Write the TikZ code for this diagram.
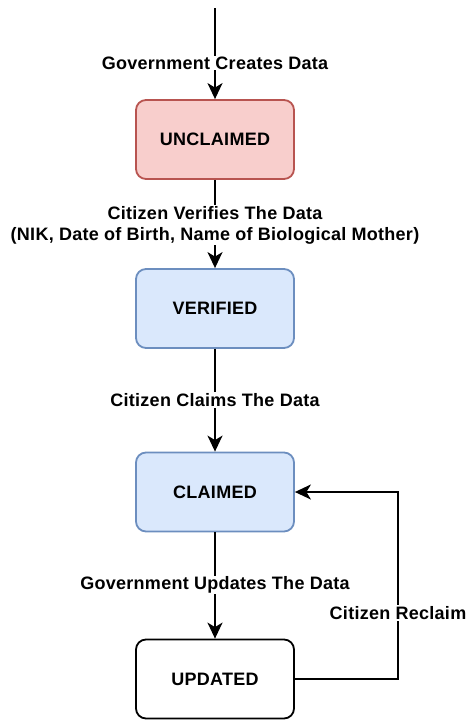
\documentclass[tikz,border=0pt]{standalone}
\usepackage{fontspec}
\setmainfont{Liberation Sans}[LetterSpace=1.5]
\usetikzlibrary{arrows.meta}
\definecolor{redfill}{HTML}{F8CECC}
\definecolor{redline}{HTML}{B85450}
\definecolor{bluefill}{HTML}{DAE8FC}
\definecolor{blueline}{HTML}{6C8EBF}
\tikzset{
  state/.style={draw, line width=1.8pt, rounded corners=10pt, minimum width=158pt,
    minimum height=79pt, inner sep=0pt, font=\fontsize{18}{21}\selectfont\bfseries},
  flow/.style={line width=1.9pt, -{Stealth[length=16pt,width=15pt,inset=4.5pt]}},
  lbl/.style={fill=white, inner sep=1pt, align=center,
    font=\fontsize{18}{21}\selectfont\bfseries}
}
\begin{document}
\begin{tikzpicture}[x=1pt,y=-1pt]
\useasboundingbox (0,0) rectangle (473,720);
\node[state, fill=redfill, draw=redline] (unc) at (215,139.5) {UNCLAIMED};
\node[state, fill=bluefill, draw=blueline] (ver) at (215,308.5) {VERIFIED};
\node[state, fill=bluefill, draw=blueline] (cla) at (215,492) {CLAIMED};
\node[state, fill=white, draw=black] (upd) at (215,679) {UPDATED};
\coordinate (start) at (215,8);
\coordinate (turn) at (398,0);

\draw[flow] (start) -- (unc.north);
\node[lbl] (l1) at (215,63) {Government Creates Data};

\draw[flow] (unc.south) -- (ver.north);
\node[lbl] (l2) at (215,225) {Citizen Verifies The Data\\(NIK, Date of Birth, Name of Biological Mother)};

\draw[flow] (ver.south) -- (cla.north);
\node[lbl] (l3) at (215,400) {Citizen Claims The Data};

\draw[flow] (cla.south) -- (upd.north);
\node[lbl] (l4) at (215,585) {Government Updates The Data};

\draw[flow, rounded corners=0pt] (upd.east) -- (upd.east -| turn) -- (cla.east -| turn) -- (cla.east);
\node[lbl] (l5) at (398,613) {Citizen Reclaim};
\end{tikzpicture}
\end{document}
